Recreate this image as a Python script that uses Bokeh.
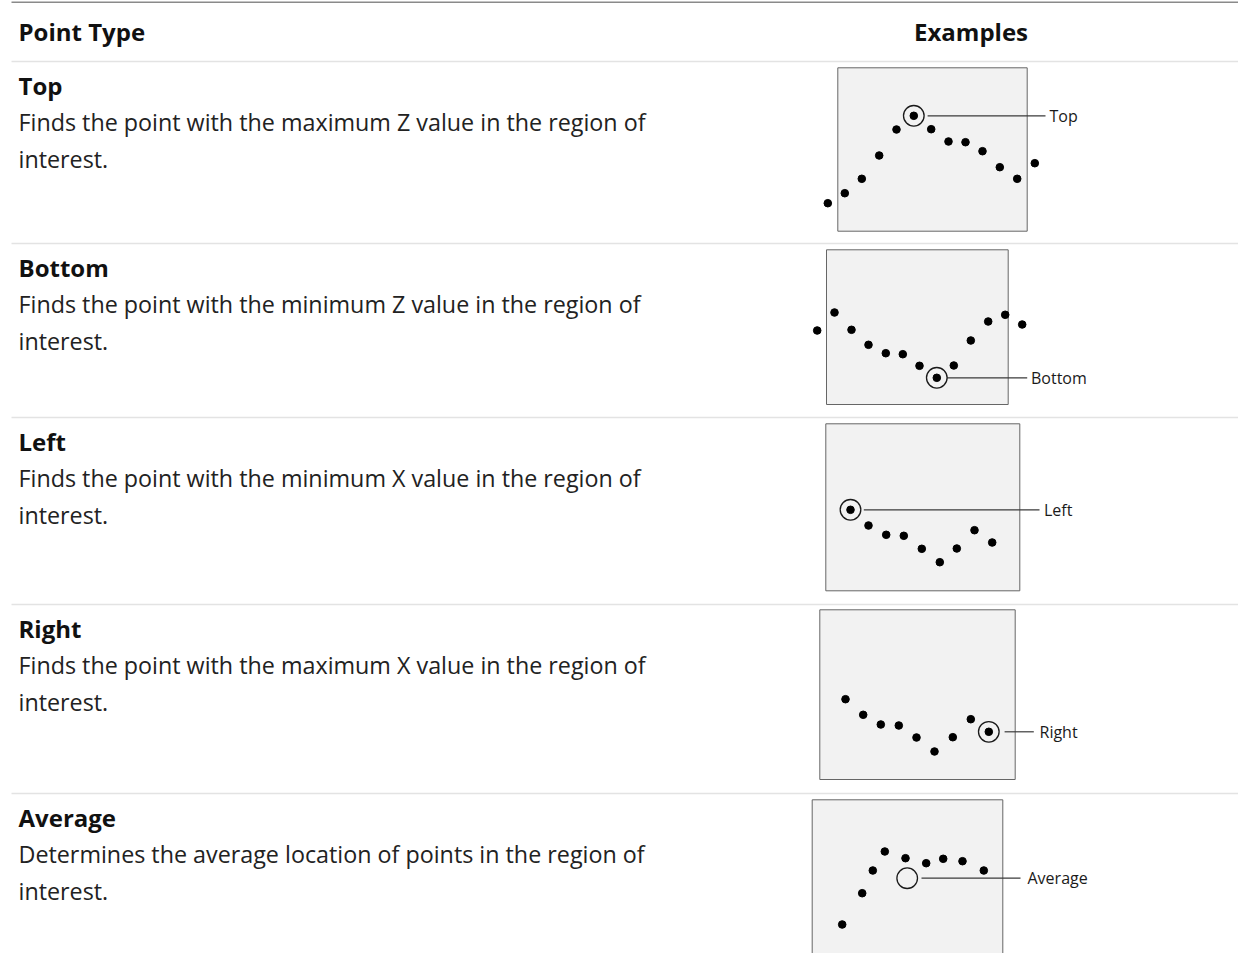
from bokeh.plotting import figure
from bokeh.models import ColumnDataSource, Range1d
from bokeh.core.properties import value
from bokeh.embed import file_html
from bokeh.resources import INLINE

# ---------------- data ----------------
point_types = ["Top", "Bottom", "Left", "Right", "Average"]
desc_line1 = [
    "Finds the point with the maximum Z value in the region of",
    "Finds the point with the minimum Z value in the region of",
    "Finds the point with the minimum X value in the region of",
    "Finds the point with the maximum X value in the region of",
    "Determines the average location of points in the region of",
]
desc_line2 = ["interest."] * 5
header_left = "Point Type"
header_right = "Examples"

# example profiles: points in panel-local px (x from panel left, y down from panel top)
top_x = [-10.0, 7.0, 24.0, 41.4, 58.7, 76.0, 93.4, 110.7, 127.7, 144.7, 162.0, 179.4, 197.0]
top_y = [135.4, 125.4, 111.0, 87.7, 61.7, 48.0, 61.4, 73.7, 74.4, 83.4, 99.4, 111.0, 95.4]
bottom_x = [-9.3, 8.0, 25.0, 42.0, 59.3, 76.3, 93.0, 110.3, 127.3, 144.3, 161.7, 178.7, 195.7]
bottom_y = [80.7, 62.7, 80.0, 95.0, 103.4, 104.4, 116.0, 128.0, 115.7, 90.7, 71.7, 65.0, 74.7]
left_x = [24.7, 42.7, 60.4, 78.0, 96.0, 114.0, 131.0, 148.7, 166.4]
left_y = [86.0, 101.7, 111.0, 112.0, 125.0, 138.4, 124.7, 106.4, 118.7]
right_x = [25.7, 43.4, 61.0, 79.0, 96.7, 114.7, 133.0, 151.0, 169.0]
right_y = [89.4, 105.0, 114.7, 115.7, 127.7, 141.7, 127.4, 109.4, 122.0]
average_x = [30.0, 50.0, 60.6, 72.6, 93.3, 114.0, 131.0, 150.3, 171.6]
average_y = [124.7, 93.4, 70.7, 51.7, 58.4, 63.4, 59.0, 61.4, 70.7]
average_marker = (95.0, 78.4)  # open circle (average location), panel-local

panel_x = [top_x, bottom_x, left_x, right_x, average_x]
panel_y = [top_y, bottom_y, left_y, right_y, average_y]
marked_index = [5, 7, 0, 8, None]  # circled point per panel

# ---------------- layout (reference pixel coordinates) ----------------
W, H = 1238, 953
row_sep = [61, 243, 417, 604, 793]
box_l = [837.3, 826.0, 825.3, 819.3, 811.7]
box_t = [67.3, 249.3, 423.3, 609.3, 799.3]
box_w = [189.4, 181.7, 194.0, 195.4, 190.6]
box_h = [163.4, 154.7, 167.0, 169.7, 164.4]
lead_gap = [3.5, 0.0, 3.0, 5.5, 4.0]
lead_end = [1045.0, 1026.7, 1039.0, 1033.3, 1020.0]
label_x = [1049.0, 1030.5, 1043.5, 1039.0, 1027.0]
ring_r = 10.3

p = figure(width=W, height=H, output_backend="svg", toolbar_location=None,
           x_range=Range1d(0, W), y_range=Range1d(H, 0),
           x_axis_type=None, y_axis_type=None, min_border=0,
           background_fill_color="white", border_fill_color="white")
p.outline_line_color = None
p.grid.visible = False

# top rule
p.segment(x0=[11], y0=[1.7], x1=[1254], y1=[1.7], line_color="#8a8a8a", line_width=1.6)
# row separators
p.segment(x0=[11] * len(row_sep), y0=row_sep, x1=[1254] * len(row_sep), y1=row_sep,
          line_color="#e3e3e3", line_width=1.4)

# panels
p.quad(left=box_l, right=[l + w for l, w in zip(box_l, box_w)],
       top=box_t, bottom=[t + h for t, h in zip(box_t, box_h)],
       fill_color="#f2f2f2", line_color="#666666", line_width=1)

fnt = value("Open Sans")

for i in range(5):
    xs = [box_l[i] + v for v in panel_x[i]]
    ys = [box_t[i] + v for v in panel_y[i]]
    if marked_index[i] is not None:
        cx, cy = xs[marked_index[i]], ys[marked_index[i]]
    else:
        cx, cy = box_l[i] + average_marker[0], box_t[i] + average_marker[1]
    # leader line
    p.segment(x0=[cx + ring_r + lead_gap[i]], y0=[cy], x1=[lead_end[i]], y1=[cy],
              line_color="#3a3a3a", line_width=1.2)
    # ring
    p.scatter(x=[cx], y=[cy], size=2 * ring_r, marker="circle",
              fill_color=None, line_color="#1a1a1a", line_width=1.3)
    # points
    p.scatter(x=xs, y=ys, size=7.6, marker="circle", fill_color="black", line_color="black")
    # label
    p.text(x=[label_x[i]], y=[cy], text=[point_types[i]], text_font=fnt,
           text_font_size=value("16px"), text_baseline="middle", text_align="left",
           text_color="#1a1a1a")

# header texts
p.text(x=[18], y=[31], text=[header_left], text_font=fnt, text_font_size=value("24px"),
       text_font_style="bold", text_baseline="middle", text_align="left", text_color="#111111")
p.text(x=[970.5], y=[31], text=[header_right], text_font=fnt, text_font_size=value("24px"),
       text_font_style="bold", text_baseline="middle", text_align="center", text_color="#111111")

# row texts
src = ColumnDataSource(dict(
    x=[18] * 5,
    ty=[s + 23.5 for s in row_sep],
    d1=[s + 60.7 for s in row_sep],
    d2=[s + 97.7 for s in row_sep],
    title=point_types, l1=desc_line1, l2=desc_line2,
))
p.text(x="x", y="ty", text="title", source=src, text_font=fnt, text_font_size=value("24px"),
       text_font_style="bold", text_baseline="middle", text_color="#111111")
p.text(x="x", y="d1", text="l1", source=src, text_font=fnt, text_font_size=value("23.3px"),
       text_baseline="middle", text_color="#222222")
p.text(x="x", y="d2", text="l2", source=src, text_font=fnt, text_font_size=value("23.3px"),
       text_baseline="middle", text_color="#222222")

open("out.html", "w").write(file_html(p, INLINE))
